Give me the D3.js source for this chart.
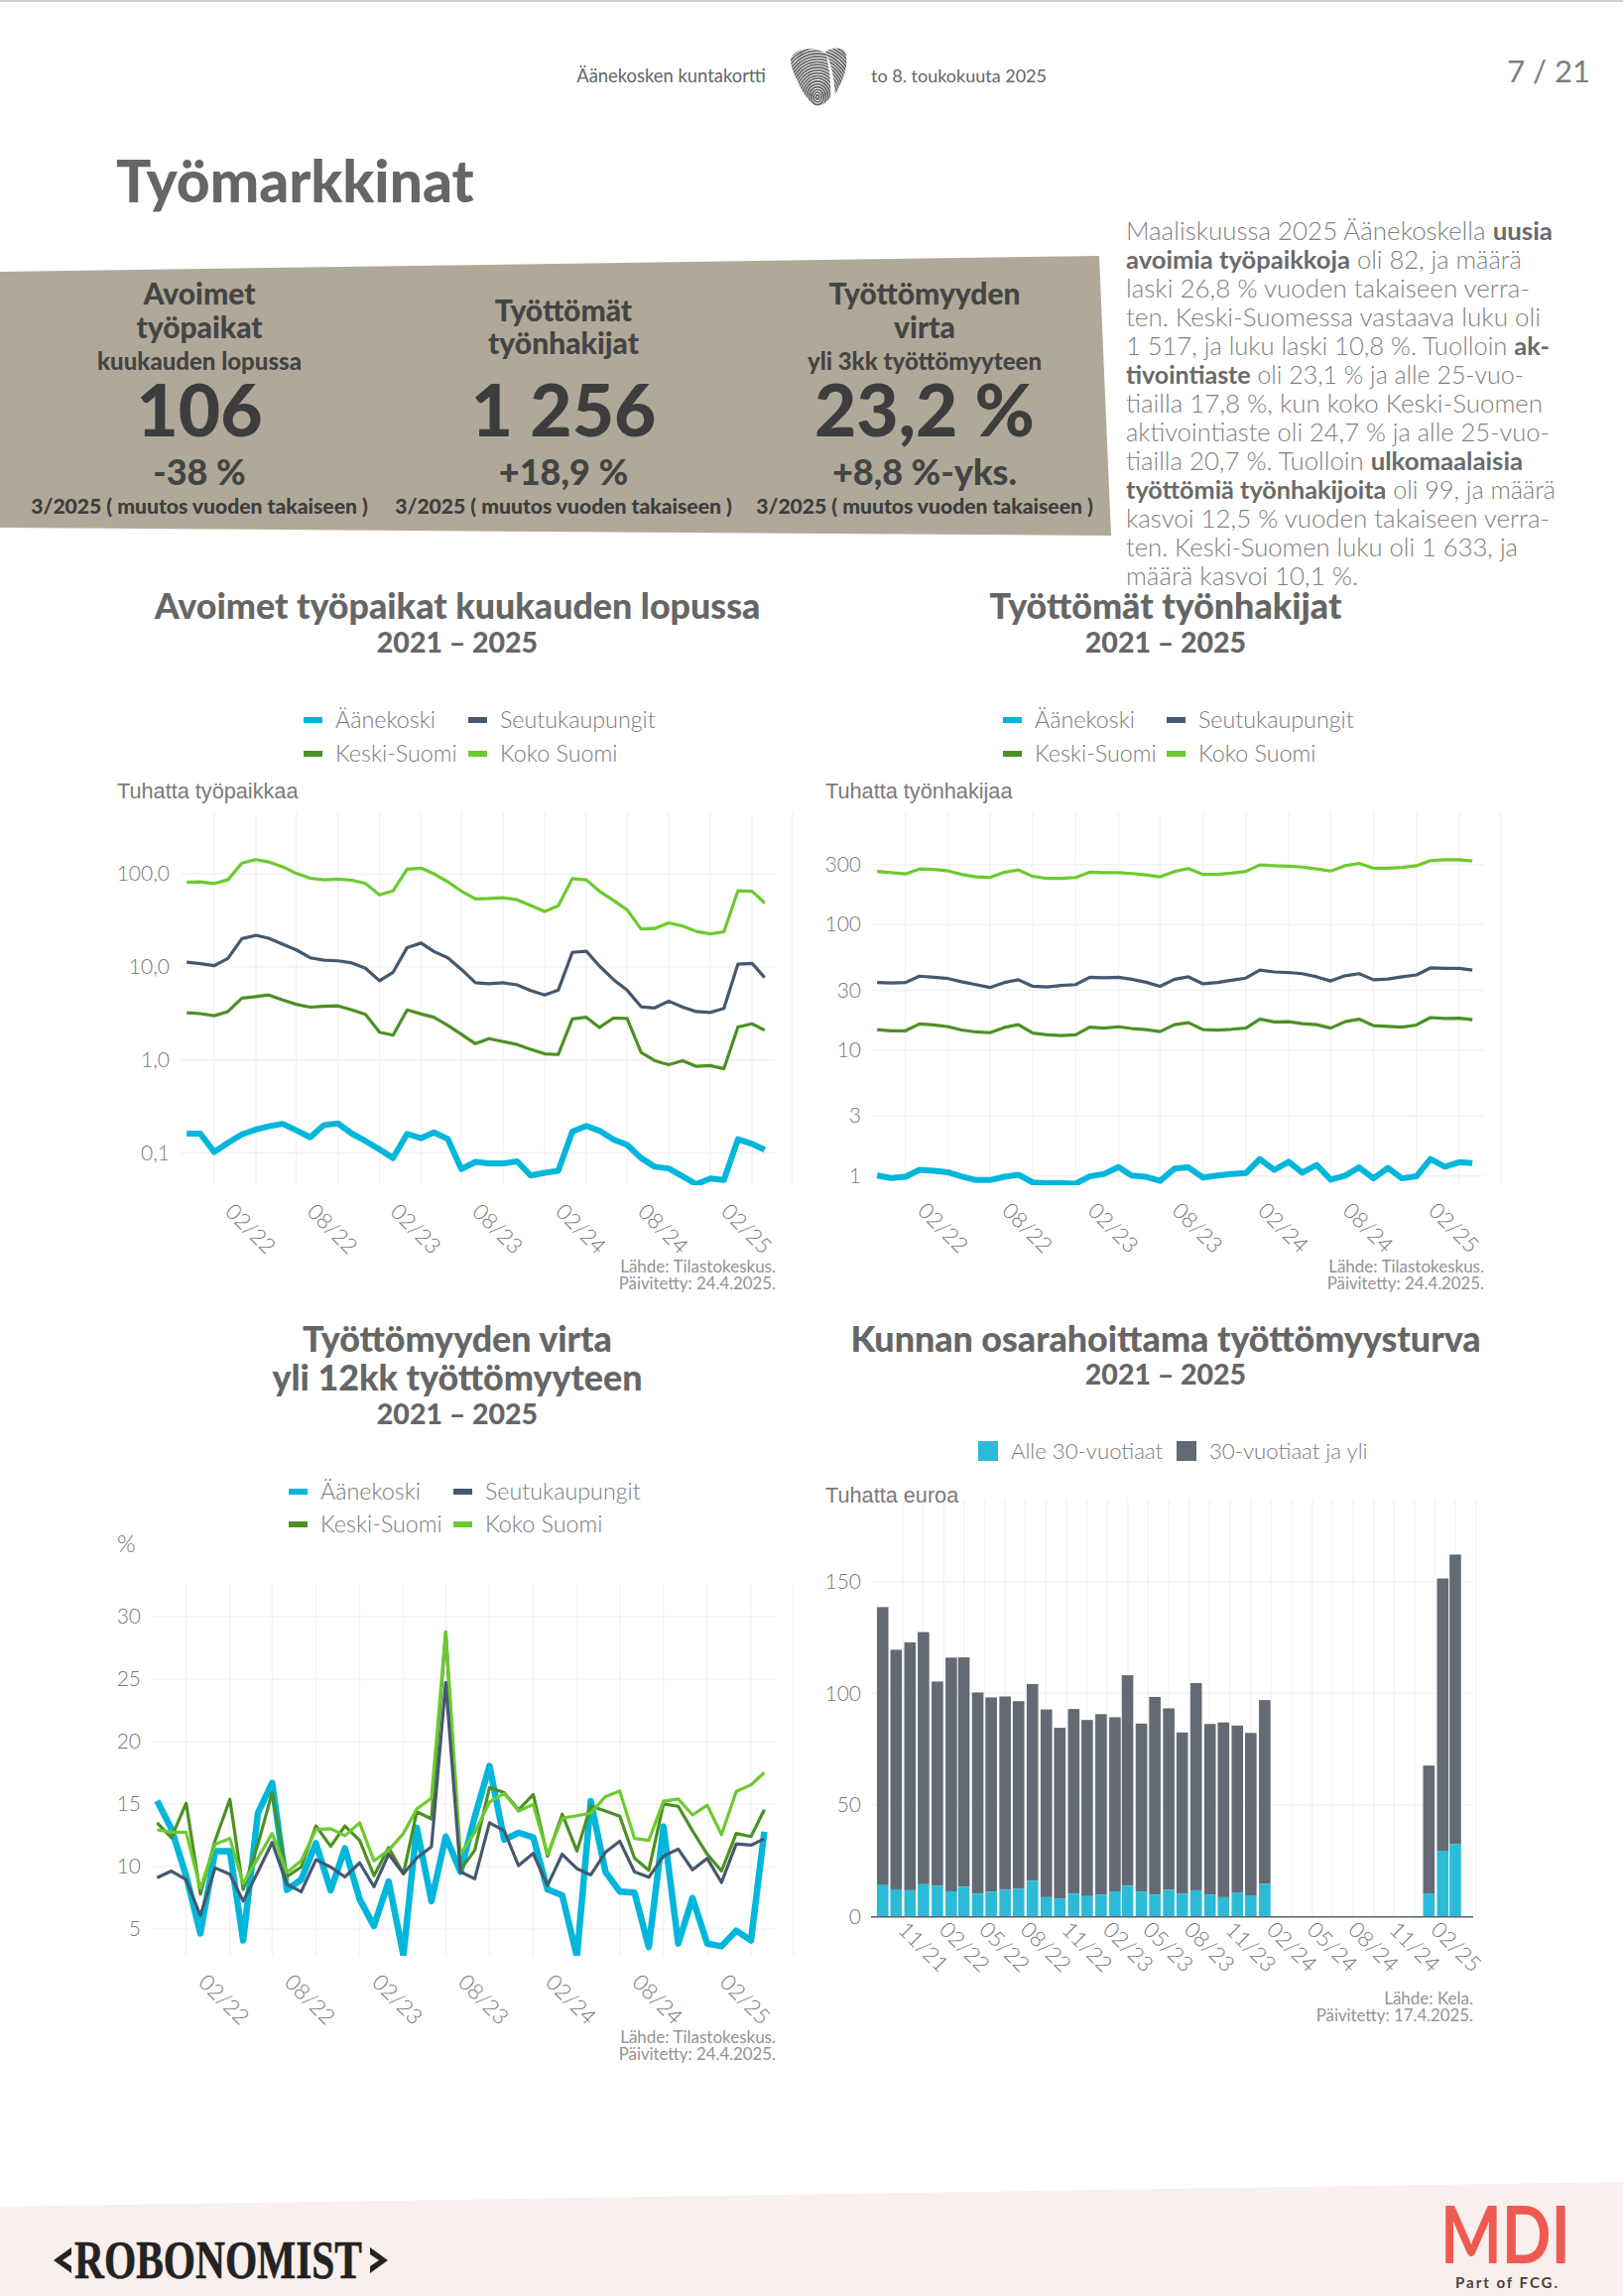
<!DOCTYPE html>
<html lang="fi"><head><meta charset="utf-8">
<script src="https://cdn.jsdelivr.net/npm/d3@7/dist/d3.min.js"></script>
<style>
html,body{margin:0;padding:0;background:#fff}
svg{display:block}
text{font-family:Lato,"Open Sans",sans-serif}
</style></head><body><svg id="p" width="1636" height="2315"></svg>
<script>
// ---- data ----
const lineMonths = d3.range(43).map(i => new Date(Date.UTC(2021, 8 + i, 1)));
const seriesNames = ["Äänekoski","Seutukaupungit","Keski-Suomi","Koko Suomi"];

const jobsAanekoski = [.161,.161,.102,.128,.158,.178,.193,.205,.175,.147,.199,.207,.161,.134,.109,.088,.16,.144,.166,.141,.067,.08,.077,.077,.081,.057,.061,.064,.169,.195,.173,.139,.122,.088,.071,.068,.056,.046,.053,.051,.14,.125,.108];
const jobsSeutu = [11.2,10.8,10.3,12.3,20.1,21.8,20.3,17.5,15.2,12.5,11.8,11.6,11,9.65,7.07,8.73,16.1,18,14.6,12.5,9.37,6.73,6.59,6.73,6.4,5.56,4.98,5.61,14.3,14.7,10.2,7.29,5.61,3.72,3.61,4.28,3.68,3.3,3.23,3.57,10.7,10.9,7.67];
const jobsKeski = [3.2,3.14,2.98,3.3,4.6,4.78,4.98,4.41,3.95,3.68,3.76,3.8,3.44,3.08,1.98,1.84,3.44,3.11,2.87,2.35,1.88,1.49,1.69,1.57,1.46,1.3,1.16,1.14,2.75,2.87,2.23,2.81,2.78,1.2,.98,.887,.98,.851,.869,.802,2.25,2.44,2.08];
const jobsKoko = [81,81.8,78.6,86,130,142,134,119,101,89.5,86,87.8,85.2,78.6,59.3,65.6,112,115,100,81.8,65,53.7,54.2,55.3,52.6,45.7,39.4,45.3,88.7,86,65,51.6,41,25.5,25.8,29.7,27.4,24,22.6,23.8,65.6,65,48.5];

const seekAanekoski = [1.007,.963,.985,1.118,1.1,1.069,.993,.928,.928,.985,1.023,.888,.875,.875,.869,.993,1.038,1.178,1.007,.985,.915,1.143,1.169,.971,1.007,1.038,1.053,1.366,1.118,1.297,1.061,1.222,.935,1.007,1.169,.957,1.16,.957,.993,1.366,1.186,1.287,1.268];
const seekSeutu = [34.6,34.3,34.6,38.9,38.1,37.2,35.1,33.3,31.6,34.6,36.4,32.3,31.9,32.8,33.3,38.1,37.8,38.1,36.7,34.8,32.3,36.7,38.4,33.8,34.6,36.1,37.5,43.5,42,41.6,40.7,38.4,35.6,39.2,40.7,36.4,36.9,38.4,39.8,45.2,44.9,44.9,43.5];
const seekKeski = [14.6,14.3,14.3,16.2,15.9,15.4,14.5,14,13.8,15.2,16,13.7,13.3,13.1,13.3,15.3,15,15.4,14.9,14.6,14.1,16,16.6,14.6,14.5,14.7,15,17.7,16.8,16.9,16.3,16,15,16.9,17.7,15.7,15.5,15.3,15.9,18.2,17.9,18,17.5];
const seekKoko = [265,259,253,277,275,267,251,240,237,261,272,242,233,233,237,261,259,259,255,249,240,265,279,251,251,257,265,298,294,292,287,277,267,294,307,281,281,285,294,323,328,328,321];

const flowAanekoski = [15.26,13.03,9.27,4.65,11.24,11.24,4.09,14.28,16.7,8.14,8.95,11.87,8.1,11.46,7.38,5.25,8.8,2.9,13.12,7.23,12.4,9.58,13.97,18.05,12.15,12.7,12.34,8.17,7.7,2.8,15.23,9.58,8,7.92,3.56,13.19,3.84,7.48,3.84,3.62,4.87,4.09,12.78];
const flowSeutu = [9.11,9.64,8.95,6.07,9.89,9.39,7.23,9.58,11.93,8.58,7.98,10.55,9.96,9.17,10.3,8.39,10.99,9.42,10.68,11.59,24.73,9.58,9.02,13.5,12.87,10.08,11.05,8.48,10.99,9.83,9.33,11.15,12.03,9.58,9.14,10.83,11.4,9.74,10.65,8.73,11.81,11.71,12.21];
const flowKeski = [13.5,12.31,15.07,7.79,12.09,15.38,8.17,11.78,15.92,9.2,9.96,13.25,11.62,13.25,12.09,9.27,11.52,9.42,14.38,13.81,28.78,9.74,11.3,16.32,15.92,14.54,15.76,10.83,14.19,11.24,14.85,14.44,14.03,10.68,9.7,15.01,14.82,12.87,10.99,9.64,12.65,12.4,14.54];
const flowKoko = [12.94,12.75,12.75,8.26,11.78,12.25,8.64,10.68,12.65,9.52,10.46,12.97,13.03,12.47,13.5,10.46,11.3,12.65,14.6,15.48,28.78,10.99,12.72,15.16,15.85,14.44,14.97,10.99,13.88,14.07,14.28,15.6,16.04,12.25,12.09,15.23,15.41,14.13,14.91,12.56,16.01,16.54,17.52];

const barMonths = d3.range(29).map(i => new Date(Date.UTC(2021, 8 + i, 1))).concat([0,1,2].map(i => new Date(Date.UTC(2025, i, 1))));
const barUnder30 = [14.2,12.3,11.9,14.6,14,11.4,13.5,10.4,11.2,12.1,12.5,16.1,8.8,8.2,10.4,9.3,10,11.4,13.9,11.2,10,12.1,10.4,11.9,10,8.8,10.7,9.6,14.7,10.5,29.6,32.6];
const barOver30 = [124.4,107.2,110.9,112.8,91.3,104.6,102.6,90,87,86.5,84,88.1,84,76.4,82.6,78.8,80.7,77.9,94.2,75.3,88.4,81.2,72.1,92.7,76.3,78.2,74.9,72.7,82.3,57.2,121.8,129.5];
const barNames = ["Alle 30-vuotiaat","30-vuotiaat ja yli"];

const jobsTicks = [100,10,1,0.1];
const seekTicks = [300,100,30,10,3,1];
const flowTicks = [30,25,20,15,10,5];
const barTicks = [150,100,50,0];

const bodyLines = [
 "Maaliskuussa 2025 Äänekoskella **uusia**",
 "**avoimia työpaikkoja** oli 82, ja määrä",
 "laski 26,8 % vuoden takaiseen verra-",
 "ten. Keski-Suomessa vastaava luku oli",
 "1 517, ja luku laski 10,8 %. Tuolloin **ak-**",
 "**tivointiaste** oli 23,1 % ja alle 25-vuo-",
 "tiailla 17,8 %, kun koko Keski-Suomen",
 "aktivointiaste oli 24,7 % ja alle 25-vuo-",
 "tiailla 20,7 %. Tuolloin **ulkomaalaisia**",
 "**työttömiä työnhakijoita** oli 99, ja määrä",
 "kasvoi 12,5 % vuoden takaiseen verra-",
 "ten. Keski-Suomen luku oli 1 633, ja",
 "määrä kasvoi 10,1 %."];
const bodyWidths = [430,399,407,418,427,401,420,427,400,433,427,395,234];

const kpiHeads = [["Avoimet","työpaikat"],["Työttömät","työnhakijat"],["Työttömyyden","virta"]];
const kpiSubs = ["kuukauden lopussa","","yli 3kk työttömyyteen"];
const kpiValues = ["106","1 256","23,2 %"];
const kpiChanges = ["-38 %","+18,9 %","+8,8 %-yks."];
const kpiNote = "3/2025 ( muutos vuoden takaiseen )";

// ---- styles ----
const colors = {"Äänekoski":"#00b6da","Seutukaupungit":"#46586f","Keski-Suomi":"#4c9123","Koko Suomi":"#6ccb2e"};
const gridC = "#f3f3f3", txtC = "#808080", headC = "#666666";
const svg = d3.select("#p");
const T = (g,x,y,s,o={}) => g.append("text").attr("x",x).attr("y",y).attr("dy",".35em").text(s)
  .attr("font-size",o.size||20).attr("font-weight",o.w||300).attr("fill",o.fill||txtC)
  .attr("text-anchor",o.a||"start").style("font-family",o.f||null);

// ---- page furniture ----
svg.append("rect").attr("width",1636).attr("height",2).attr("fill","#cfcfcf");
T(svg,772,77,"Äänekosken kuntakortti",{size:18.4,a:"end",fill:"#666",w:400});
T(svg,878,77,"to 8. toukokuuta 2025",{size:18,fill:"#666",w:400});
T(svg,1603,72,"7 / 21",{size:31,a:"end",fill:"#7d7d7d",w:400});

// fingerprint heart
const defs = svg.append("defs");
defs.append("clipPath").attr("id","heart").selectAll("path").data([
 "M797,60 C800,48 820,46 833,54 C836,70 838,85 837,98 C833,104 828,107 822,107 C815,102 808,92 804,82 C800,74 797,67 797,60Z",
 "M832,52 C838,48 848,47 852,52 C855,62 853,74 847,85 C845,89 843,93 842,96 C841,82 839,66 832,52Z"
]).join("path").attr("d",d=>d);
svg.append("g").attr("clip-path","url(#heart)").selectAll("ellipse").data(d3.range(2,84,2.8)).join("ellipse")
 .attr("cx",824).attr("cy",98).attr("rx",d=>d*.82).attr("ry",d=>d)
 .attr("fill","none").attr("stroke","#666").attr("stroke-width",1.8);

T(svg,117,183,"Työmarkkinat",{size:58.7,w:900,fill:headC});

// KPI band
svg.append("polygon").attr("points","0,274 1108,258 1120,540 0,532").attr("fill","#b0a999");
const kpiX = [201,568,932];
kpiX.forEach((cx,i)=>{
  const two = kpiSubs[i]==="";
  const y0 = two?313:296.5;
  kpiHeads[i].forEach((s,j)=>T(svg,cx,y0+j*33.5,s,{size:30,w:900,a:"middle",fill:"#444"}));
  if(!two) T(svg,cx,364.5,kpiSubs[i],{size:24,w:900,a:"middle",fill:"#444"});
  T(svg,cx,414,kpiValues[i],{size:73,w:900,a:"middle",fill:"#3d3d3d"});
  T(svg,cx,476,kpiChanges[i],{size:36,w:900,a:"middle",fill:"#444"});
  T(svg,cx,511,kpiNote,{size:21.1,w:900,a:"middle",fill:"#3d3d3d"});
});

// body text
bodyLines.forEach((ln,i)=>{
  const t = svg.append("text").attr("x",1135).attr("y",233.5+i*28.93).attr("dy",".35em").attr("font-size",25.3).attr("font-weight",300).attr("fill",txtC)
    .attr("textLength",bodyWidths[i]).attr("lengthAdjust","spacingAndGlyphs");
  ln.split("**").forEach((seg,k)=>{ if(seg) t.append("tspan").text(seg).attr("font-weight",k%2?700:300).attr("fill",k%2?"#6a6a6a":txtC); });
});

// footer
svg.append("polygon").attr("points","0,2225 1636,2200 1636,2315 0,2315").attr("fill","#f9efec");
const robo = svg.append("g").attr("fill","#222");
T(robo,75,2278,"ROBONOMIST",{size:55,w:700,fill:"#222",f:"'Liberation Serif'"}).attr("textLength",290).attr("lengthAdjust","spacingAndGlyphs").attr("stroke","#222").attr("stroke-width",.6);
robo.append("polygon").attr("points","72,2266 54,2279 72,2292 72,2285 63,2279 72,2273");
robo.append("polygon").attr("points","373,2266 391,2279 373,2292 373,2285 382,2279 373,2273");
T(svg,1452,2254,"MDI",{size:80,w:700,fill:"#ef5a50"}).attr("textLength",131).attr("lengthAdjust","spacingAndGlyphs");
T(svg,1467,2302,"Part of FCG.",{size:15,w:700,fill:"#444"}).attr("textLength",103);

// ---- chart helpers ----
const feb22 = new Date(Date.UTC(2022,1,1)), feb25 = new Date(Date.UTC(2025,1,1));
const gridMonths = d3.range(15).map(i => new Date(Date.UTC(2021, 10 + i*3, 1)));
const labelMonths = d3.range(7).map(i => new Date(Date.UTC(2022, 1 + i*6, 1)));
const fmtM = d3.utcFormat("%m/%y");

function frame(g, c, x, y, yTicks, yFmt){
  g.append("g").selectAll("line").data(yTicks).join("line")
   .attr("x1",c.left).attr("x2",c.right).attr("y1",y).attr("y2",y).attr("stroke",gridC).attr("stroke-width",1.6);
  g.append("g").selectAll("line").data(c.grid).join("line")
   .attr("x1",x).attr("x2",x).attr("y1",c.top).attr("y2",c.bottom).attr("stroke",gridC).attr("stroke-width",1.4);
  const ya = g.append("g").attr("transform",`translate(${c.yLab},0)`)
    .call(d3.axisLeft(y).tickValues(yTicks).tickFormat(yFmt).tickSize(0).tickPadding(0));
  ya.select(".domain").remove();
  ya.selectAll("text").attr("font-size",21).attr("font-weight",300).attr("fill","#777").style("font-family","Lato");
  const xa = g.append("g").attr("transform",`translate(0,${c.xLab})`)
    .call(d3.axisBottom(x).tickValues(c.xTicks).tickFormat(fmtM).tickSize(0).tickPadding(0));
  xa.select(".domain").remove();
  xa.selectAll("text").attr("y",0).attr("dy",".35em").attr("text-anchor","middle")
    .attr("transform",`translate(${c.xOff},0) rotate(45)`)
    .attr("font-size",22).attr("font-weight",300).attr("fill","#777").style("font-family","Lato");
}
function titles(g,cx,lines,sub,subY){
  lines.forEach(([s,y])=>T(g,cx,y,s,{size:35.8,w:900,a:"middle",fill:headC}));
  T(g,cx,subY,sub,{size:28.5,w:900,a:"middle",fill:headC});
}
function sources(g,right,y,a,b){
  T(g,right,y,a,{size:17,a:"end",fill:"#939393",w:400});
  T(g,right,y+17.5,b,{size:16.8,a:"end",fill:"#939393",w:400});
}
function lineLegend(g,sx1,sx2,y1,y2){
  const pos = [[sx1,y1],[sx2,y1],[sx1,y2],[sx2,y2]];
  seriesNames.forEach((n,i)=>{
    const [x,y]=pos[i];
    g.append("rect").attr("x",x).attr("y",y-3).attr("width",19).attr("height",6).attr("fill",colors[n]);
    T(g,x+32,y,n,{size:23.3,fill:"#7b7b7b"});
  });
}
function lineChart(id,c,y,series,yTicks,yFmt,lw){
  const g = svg.append("g");
  const x = d3.scaleUtc().domain([feb22,feb25]).range([c.x0,c.x1]);
  frame(g,c,x,y,yTicks,yFmt);
  defs.append("clipPath").attr("id",id).append("rect").attr("x",c.left).attr("y",c.top).attr("width",c.right-c.left).attr("height",c.bottom-c.top);
  const line = d3.line().x((d,i)=>x(lineMonths[i])).y(d=>y(d));
  const order = ["Äänekoski","Keski-Suomi","Koko Suomi","Seutukaupungit"];
  g.append("g").attr("clip-path",`url(#${id})`).selectAll("path").data(order).join("path")
   .attr("d",n=>line(series[n])).attr("fill","none").attr("stroke",n=>colors[n])
   .attr("stroke-width",n=>n==="Äänekoski"?lw:3.2).attr("stroke-linejoin","round");
  return g;
}
const comma1 = d=>d3.format(".1f")(d).replace(".",",");

// ---- chart 1 ----
{
  const c={left:183,right:782,top:819,bottom:1195,x0:258,x1:758,grid:gridMonths,xTicks:labelMonths,yLab:171,xLab:1239,xOff:-6};
  const y=d3.scaleLog().domain([0.1,100]).range([1162.4,881]);
  const g=lineChart("c1",c,y,{"Äänekoski":jobsAanekoski,"Seutukaupungit":jobsSeutu,"Keski-Suomi":jobsKeski,"Koko Suomi":jobsKoko},jobsTicks,comma1,6);
  titles(g,461,[["Avoimet työpaikat kuukauden lopussa",611]],"2021 – 2025",648);
  lineLegend(g,306,472,726,760);
  T(g,118,797,"Tuhatta työpaikkaa",{size:21.7,w:400,fill:"#7a7a7a",f:"'Liberation Sans'"});
  sources(g,782,1277,"Lähde: Tilastokeskus.","Päivitetty: 24.4.2025.");
}
// ---- chart 2 ----
{
  const c={left:878,right:1496,top:819,bottom:1195,x0:956,x1:1471,grid:gridMonths,xTicks:labelMonths,yLab:868,xLab:1238,xOff:-6};
  const y=d3.scaleLog().domain([1,300]).range([1185.7,871.8]);
  const g=lineChart("c2",c,y,{"Äänekoski":seekAanekoski,"Seutukaupungit":seekSeutu,"Keski-Suomi":seekKeski,"Koko Suomi":seekKoko},seekTicks,d3.format("d"),6);
  titles(g,1175,[["Työttömät työnhakijat",611]],"2021 – 2025",648);
  lineLegend(g,1011,1176,726,760);
  T(g,832,797,"Tuhatta työnhakijaa",{size:21.7,w:400,fill:"#7a7a7a",f:"'Liberation Sans'"});
  sources(g,1496,1277,"Lähde: Tilastokeskus.","Päivitetty: 24.4.2025.");
}
// ---- chart 3 ----
{
  const c={left:153,right:782,top:1597,bottom:1972,x0:231.7,x1:757,grid:gridMonths,xTicks:labelMonths,yLab:142,xLab:2016,xOff:-6.5};
  const y=d3.scaleLinear().domain([5,30]).range([1945,1630]);
  const g=lineChart("c3",c,y,{"Äänekoski":flowAanekoski,"Seutukaupungit":flowSeutu,"Keski-Suomi":flowKeski,"Koko Suomi":flowKoko},flowTicks,d3.format("d"),6.5);
  titles(g,461,[["Työttömyyden virta",1350],["yli 12kk työttömyyteen",1389]],"2021 – 2025",1426);
  lineLegend(g,291,457,1504,1537);
  T(g,118,1557,"%",{size:24,fill:"#777",w:300});
  sources(g,782,2054,"Lähde: Tilastokeskus.","Päivitetty: 24.4.2025.");
}
// ---- chart 4 ----
{
  const grid=d3.range(29).map(i=>new Date(Date.UTC(2021,9,16+i*45.66)));
  const ticks=d3.range(14).map(i=>new Date(Date.UTC(2021,10+i*3,1)));
  const c={left:878,right:1485,top:1512,bottom:1932,grid,xTicks:ticks,yLab:868,xLab:1963,xOff:13};
  const g=svg.append("g");
  const x=d3.scaleUtc().domain([feb22,feb25]).range([958.9,1454.3]);
  const y=d3.scaleLinear().domain([0,150]).range([1932.7,1594.7]);
  frame(g,c,x,y,barTicks,d3.format("d"));
  const bw=11.6;
  g.append("g").selectAll("rect").data(barMonths).join("rect")
   .attr("x",d=>x(d)-bw/2).attr("width",bw).attr("y",(d,i)=>y(barUnder30[i]+barOver30[i]))
   .attr("height",(d,i)=>y(barUnder30[i])-y(barUnder30[i]+barOver30[i])).attr("fill","#636a73");
  g.append("g").selectAll("rect").data(barMonths).join("rect")
   .attr("x",d=>x(d)-bw/2).attr("width",bw).attr("y",(d,i)=>y(barUnder30[i]))
   .attr("height",(d,i)=>y(0)-y(barUnder30[i])).attr("fill","#2bbbd8");
  g.append("line").attr("x1",c.left).attr("x2",c.right).attr("y1",y(0)).attr("y2",y(0)).attr("stroke","#5d6268").attr("stroke-width",1.6);
  titles(g,1175,[["Kunnan osarahoittama työttömyysturva",1350]],"2021 – 2025",1386);
  [[986,"#2bbbd8"],[1186,"#636a73"]].forEach(([sx,col],i)=>{
    g.append("rect").attr("x",sx).attr("y",1453).attr("width",20).attr("height",20).attr("fill",col);
    T(g,sx+33,1463,barNames[i],{size:22.2,fill:"#7b7b7b"});
  });
  T(g,832,1507,"Tuhatta euroa",{size:21.7,w:400,fill:"#7a7a7a",f:"'Liberation Sans'"});
  sources(g,1485,2015,"Lähde: Kela.","Päivitetty: 17.4.2025.");
}
</script></body></html>
